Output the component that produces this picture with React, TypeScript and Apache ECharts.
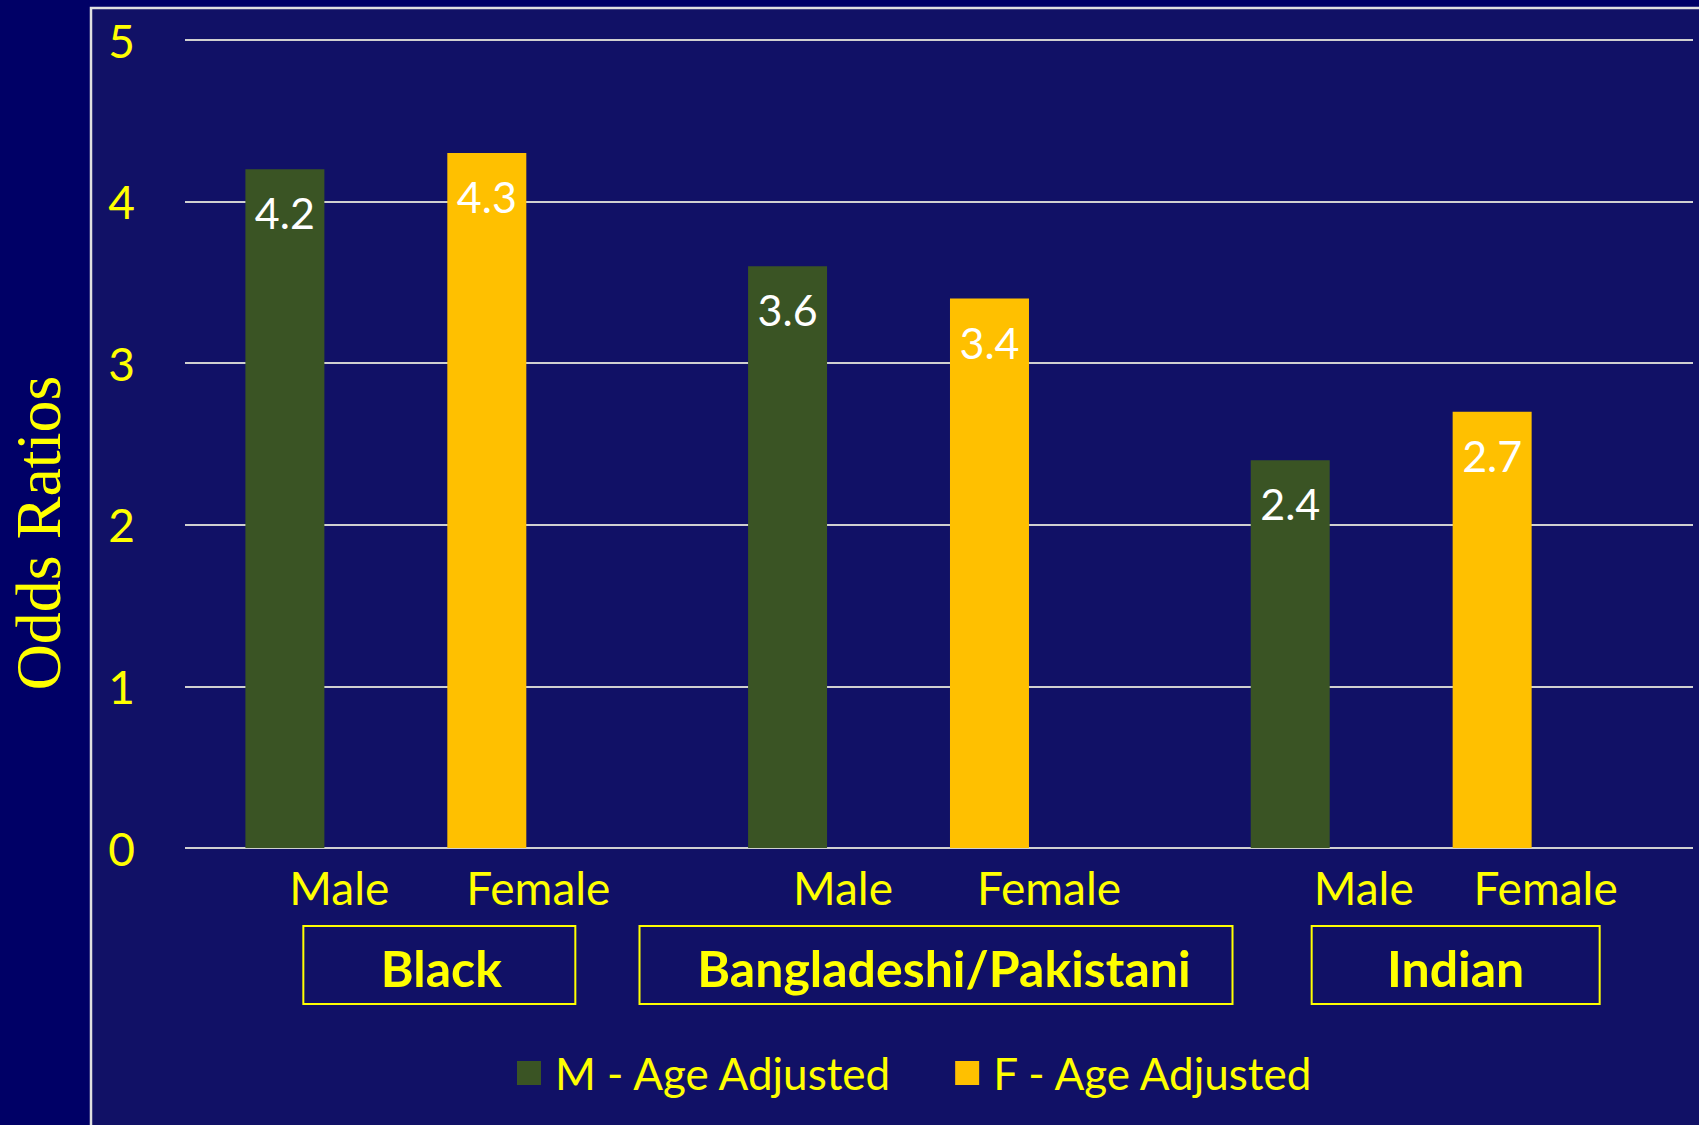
import React, { useEffect, useRef } from "react";
import * as echarts from "echarts";

// ---- data ----
const groups = ["Black", "Bangladeshi/Pakistani", "Indian"];
const sexLabels = ["Male", "Female"];
const seriesNames = ["M - Age Adjusted", "F - Age Adjusted"];
const maleValues = [4.2, 3.6, 2.4];
const femaleValues = [4.3, 3.4, 2.7];
const yMin = 0;
const yMax = 5;
const yStep = 1;
const yTitle = "Odds Ratios";

// ---- styling / layout constants ----
const W = 1699;
const H = 1125;
const OUTER_BG = "#000066";
const PANEL_BG = "#111166";
const GREEN = "#3A5424";
const GOLD = "#FFC000";
const YELLOW = "#FFFF00";
const GRID_COLOR = "#D0D0D0";
const SANS = "Lato, 'Open Sans', sans-serif";
const SERIF = "'Liberation Serif', 'DejaVu Serif', serif";
const boxWidths = [272, 593, 288];
const boxShifts = [3, -3, 14];
const boxTextShifts = [2, 8, 0];
const sexOffsets = [
  [-97, 102],
  [-96, 110],
  [-78, 104],
];

export default function App() {
  const ref = useRef<HTMLDivElement>(null);

  useEffect(() => {
    const chart = echarts.init(ref.current!, null, {
      renderer: "svg",
      width: W,
      height: H,
    });

    const labelOpt = {
      show: true,
      position: "insideTop",
      distance: 22,
      color: "#FFFFFF",
      fontSize: 43,
      fontFamily: SANS,
      formatter: (p: any) => String(p.value),
    };

    chart.setOption({
      animation: false,
      backgroundColor: OUTER_BG,
      grid: { left: 185, right: 6, top: 40, bottom: 277 },
      legend: {
        data: seriesNames,
        left: 512,
        top: 1046,
        icon: "rect",
        itemWidth: 24,
        itemHeight: 24,
        itemGap: 62,
        textStyle: {
          color: YELLOW,
          fontSize: 44,
          fontFamily: SANS,
          padding: [0, 0, 0, 9],
        },
      },
      xAxis: {
        type: "category",
        data: groups,
        axisLine: { show: false },
        axisTick: { show: false },
        axisLabel: { show: false },
        splitLine: { show: false },
      },
      yAxis: {
        type: "value",
        min: yMin,
        max: yMax,
        interval: yStep,
        axisLine: { show: false },
        axisTick: { show: false },
        axisLabel: {
          color: YELLOW,
          fontSize: 46,
          fontFamily: SANS,
          margin: 50,
        },
        splitLine: { lineStyle: { color: GRID_COLOR, width: 2 } },
      },
      series: [
        {
          name: seriesNames[0],
          type: "bar",
          data: maleValues,
          barWidth: 79,
          barGap: "27.8%",
          itemStyle: { color: GREEN },
          label: labelOpt,
        },
        { name: "spacer-a", type: "bar", data: [], barWidth: 79, barGap: "27.8%" },
        {
          name: seriesNames[1],
          type: "bar",
          data: femaleValues,
          barWidth: 79,
          barGap: "27.8%",
          itemStyle: { color: GOLD },
          label: labelOpt,
        },
        { name: "spacer-b", type: "bar", data: [], barWidth: 79, barGap: "27.8%" },
      ],
    });

    const y0 = chart.convertToPixel({ yAxisIndex: 0 }, yMin) as number;
    const graphics: any[] = [
      {
        type: "rect",
        z: -10,
        silent: true,
        shape: { x: 91, y: 8, width: W, height: H },
        style: { fill: PANEL_BG, stroke: "#E0E0E0", lineWidth: 2.5 },
      },
      {
        type: "text",
        x: 38,
        y: 533,
        rotation: Math.PI / 2,
        style: {
          text: yTitle,
          fill: YELLOW,
          fontSize: 64,
          fontFamily: SERIF,
          align: "center",
          verticalAlign: "middle",
        },
      },
    ];

    groups.forEach((g, i) => {
      const cx = chart.convertToPixel({ xAxisIndex: 0 }, g) as number;
      sexLabels.forEach((s, j) => {
        graphics.push({
          type: "text",
          x: cx + sexOffsets[i][j],
          y: y0 + 39,
          style: {
            text: s,
            fill: YELLOW,
            fontSize: 46,
            fontFamily: SANS,
            align: "center",
            verticalAlign: "middle",
          },
        });
      });
      const bw = boxWidths[i];
      const bx = cx + boxShifts[i];
      graphics.push({
        type: "rect",
        shape: { x: bx - bw / 2, y: y0 + 78, width: bw, height: 78 },
        style: { fill: "none", stroke: YELLOW, lineWidth: 2 },
      });
      graphics.push({
        type: "text",
        x: bx + boxTextShifts[i],
        y: y0 + 120,
        style: {
          text: g,
          fill: YELLOW,
          fontSize: 50,
          fontWeight: "bold",
          fontFamily: SANS,
          align: "center",
          verticalAlign: "middle",
        },
      });
    });

    chart.setOption({ graphic: graphics });

    return () => chart.dispose();
  }, []);

  return (
    <div
      ref={ref}
      style={{ position: "fixed", left: 0, top: 0, width: W, height: H }}
    />
  );
}
